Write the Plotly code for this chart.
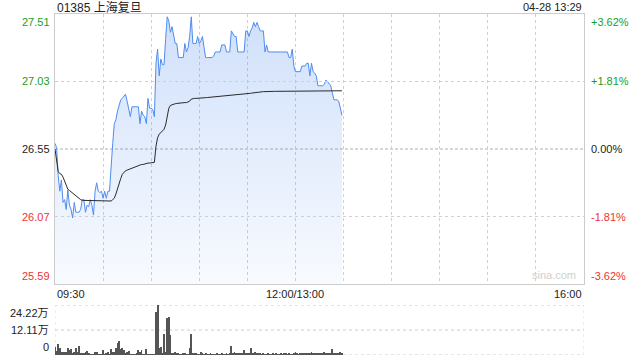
import plotly.graph_objects as go

title_left = "01385 上海复旦"
title_right = "04-28 13:29"
prev_close = 26.55
price_ticks = [27.51, 27.03, 26.55, 26.07, 25.59]
pct_labels = ["+3.62%", "+1.81%", "0.00%", "-1.81%", "-3.62%"]
time_labels = ["09:30", "12:00/13:00", "16:00"]
time_label_pos = [0, 150, 330]
grid_minutes = [30, 60, 90, 120, 150, 180, 210, 240, 270, 300]
vol_ticks = [24.22, 12.11, 0]
vol_labels = ["24.22万", "12.11万", "0"]

price = [
    26.59, 26.56, 26.36, 26.25, 26.33, 26.17, 26.19, 26.12, 26.26, 26.15,
    26.12, 26.06, 26.17, 26.10, 26.10, 26.10, 26.12, 26.19, 26.19, 26.10,
    26.15, 26.14, 26.19, 26.15, 26.08, 26.25, 26.31, 26.25, 26.24, 26.25,
    26.20, 26.25, 26.20, 26.25, 26.25, 26.45, 26.59, 26.73, 26.76, 26.82,
    26.87, 26.90, 26.91, 26.93, 26.94, 26.89, 26.84, 26.78, 26.85, 26.85,
    26.85, 26.85, 26.85, 26.73, 26.82, 26.79, 26.78, 26.73, 26.91, 26.84,
    26.84, 26.83, 26.78, 27.16, 27.26, 27.07, 27.19, 27.15, 27.15, 27.33,
    27.49, 27.46, 27.38, 27.42, 27.35, 27.30, 27.30, 27.20, 27.20, 27.20,
    27.20, 27.30, 27.24, 27.27, 27.35, 27.49, 27.30, 27.30, 27.30, 27.35,
    27.30, 27.32, 27.35, 27.27, 27.20, 27.20, 27.20, 27.20, 27.20, 27.21,
    27.24, 27.24, 27.24, 27.24, 27.29, 27.29, 27.29, 27.24, 27.24, 27.24,
    27.39, 27.37, 27.35, 27.35, 27.24, 27.24, 27.24, 27.24, 27.24, 27.39,
    27.39, 27.35, 27.39, 27.41, 27.45, 27.42, 27.45, 27.42, 27.39, 27.39,
    27.39, 27.24, 27.29, 27.24, 27.24, 27.24, 27.24, 27.24, 27.24, 27.24,
    27.24, 27.24, 27.24, 27.24, 27.24, 27.24, 27.20, 27.20, 27.26, 27.14,
    27.10, 27.10, 27.10, 27.10, 27.14, 27.14, 27.14, 27.16, 27.16, 27.07,
    27.16, 27.10, 27.09, 27.07, 27.00, 27.00, 27.00, 27.00, 27.01, 27.04,
    27.03, 27.01, 27.00, 26.95, 26.90, 26.90, 26.90, 26.89, 26.84, 26.79,
]

avg_price = [
    26.55, 26.46, 26.39, 26.375, 26.37, 26.35, 26.32, 26.29, 26.265, 26.255,
    26.245, 26.235, 26.23, 26.215, 26.205, 26.195, 26.19, 26.185, 26.185, 26.185,
    26.185, 26.185, 26.185, 26.18, 26.18, 26.18, 26.18, 26.18, 26.18, 26.18,
    26.18, 26.18, 26.18, 26.18, 26.18, 26.18, 26.19, 26.20, 26.23, 26.27,
    26.31, 26.34, 26.37, 26.385, 26.395, 26.40, 26.405, 26.41, 26.415, 26.42,
    26.425, 26.43, 26.43, 26.435, 26.44, 26.44, 26.445, 26.445, 26.45, 26.45,
    26.45, 26.45, 26.455, 26.57, 26.63, 26.655, 26.665, 26.675, 26.69, 26.72,
    26.79, 26.84, 26.86, 26.865, 26.87, 26.872, 26.874, 26.876, 26.877, 26.878,
    26.879, 26.88, 26.88, 26.885, 26.89, 26.905, 26.91, 26.91, 26.91, 26.91,
    26.91, 26.912, 26.913, 26.914, 26.915, 26.916, 26.917, 26.918, 26.919, 26.92,
    26.92, 26.92, 26.921, 26.922, 26.924, 26.926, 26.928, 26.93, 26.93, 26.93,
    26.932, 26.934, 26.935, 26.936, 26.937, 26.938, 26.939, 26.94, 26.94, 26.94,
    26.942, 26.944, 26.946, 26.948, 26.95, 26.952, 26.954, 26.955, 26.956, 26.957,
    26.958, 26.958, 26.959, 26.959, 26.96, 26.96, 26.96, 26.96, 26.96, 26.96,
    26.961, 26.961, 26.961, 26.961, 26.962, 26.962, 26.962, 26.962, 26.962, 26.963,
    26.963, 26.963, 26.963, 26.963, 26.963, 26.963, 26.963, 26.963, 26.963, 26.963,
    26.964, 26.964, 26.964, 26.964, 26.964, 26.964, 26.964, 26.964, 26.964, 26.964,
    26.965, 26.965, 26.965, 26.965, 26.965, 26.965, 26.965, 26.965, 26.965, 26.964,
]

volume_wan = [
    4.0, 2.0, 5.2, 3.6, 1.6, 1.6, 1.6, 1.6, 3.6, 2.4,
    2.9, 0.5, 1.3, 3.6, 1.6, 4.4, 1.0, 1.0, 0.6, 1.3,
    2.1, 0.6, 0.3, 0.3, 0.3, 1.6, 1.3, 0.3, 0.1, 0.3,
    2.4, 0.3, 0.8, 1.3, 0.3, 2.9, 1.3, 1.6, 3.2, 5.7,
    6.9, 2.9, 3.2, 2.4, 0.8, 1.6, 1.9, 0.3, 0.3, 0.3,
    0.3, 0.8, 2.4, 1.3, 2.4, 0.3, 0.3, 2.9, 0.3, 0.3,
    0.3, 0.3, 0.3, 21.0, 24.22, 3.6, 4.0, 1.0, 10.0, 1.6,
    18.1, 18.6, 9.7, 1.1, 0.8, 1.6, 0.6, 1.1, 0.3, 0.3,
    0.8, 0.8, 0.3, 0.3, 3.2, 10.0, 0.8, 0.6, 0.6, 0.3,
    0.3, 1.3, 0.5, 0.4, 0.6, 0.3, 0.4, 0.5, 0.3, 0.4,
    0.3, 0.5, 0.4, 0.3, 0.6, 0.4, 0.3, 0.5, 0.4, 0.6,
    4.2, 1.1, 1.6, 0.8, 0.6, 1.1, 0.8, 1.1, 2.5, 0.5,
    1.0, 0.8, 3.6, 1.0, 0.6, 1.6, 0.8, 1.1, 0.5, 0.4,
    0.6, 0.4, 0.3, 0.5, 0.4, 0.3, 0.6, 0.4, 0.5, 0.3,
    0.4, 0.6, 0.3, 0.5, 0.8, 0.4, 0.5, 0.3, 0.4, 0.6,
    1.3, 0.5, 0.4, 0.6, 0.8, 0.5, 0.6, 1.0, 0.5, 0.8,
    1.6, 0.6, 0.8, 1.1, 0.6, 0.5, 1.0, 0.6, 1.3, 0.8,
    0.6, 0.8, 1.0, 2.7, 0.6, 0.5, 0.8, 0.6, 1.6, 0.5,
]

minutes = list(range(len(price)))

W, H = 640, 360
PL, PR = 55, 584          # plot left/right pixels
MT, MB = 14, 284          # main plot top/bottom pixels
VT, VB = 305, 355         # volume plot top/bottom pixels

def px_x(p):
    return p / W

def px_y(p):
    return 1 - p / H

GREEN = "#1a9e1a"
RED = "#ee3333"
TXT = "#222222"
FONT = "Liberation Sans, Arial, Noto Sans CJK SC, sans-serif"
label_colors = [GREEN, GREEN, TXT, RED, RED]

fig = go.Figure()

fig.add_trace(go.Scatter(
    x=minutes, y=price, mode="lines",
    line=dict(color="rgb(80,140,240)", width=1),
    fill="tozeroy",
    fillgradient=dict(type="vertical",
                      colorscale=[[0, "rgba(80,140,240,0.04)"], [1, "rgba(80,140,240,0.27)"]],
                      start=price_ticks[-1], stop=price_ticks[0]),
    xaxis="x", yaxis="y", hoverinfo="skip", showlegend=False,
))
fig.add_trace(go.Scatter(
    x=minutes, y=avg_price, mode="lines",
    line=dict(color="#2a2a2a", width=1),
    xaxis="x", yaxis="y", hoverinfo="skip", showlegend=False,
))
fig.add_trace(go.Bar(
    x=minutes, y=volume_wan,
    marker=dict(color="#555555", line=dict(width=0)),
    width=0.55,
    xaxis="x2", yaxis="y2", hoverinfo="skip", showlegend=False,
))

xdom = [px_x(PL), px_x(PR)]
fig.update_layout(
    width=W, height=H,
    margin=dict(l=0, r=0, t=0, b=0),
    paper_bgcolor="white", plot_bgcolor="white",
    font=dict(family=FONT, size=11, color=TXT),
    bargap=0,
    xaxis=dict(domain=xdom, range=[0, 330], tickvals=grid_minutes, showticklabels=False,
               showgrid=True, gridcolor="#d0d0d0", griddash="dot", gridwidth=1,
               zeroline=False, showline=True, linecolor="#cccccc", mirror=True, ticks=""),
    yaxis=dict(domain=[px_y(MB), px_y(MT)], range=[price_ticks[-1], price_ticks[0]],
               showticklabels=False, showgrid=False, zeroline=False,
               showline=True, linecolor="#cccccc", mirror=True, ticks=""),
    xaxis2=dict(domain=xdom, range=[0, 330], showticklabels=False, showgrid=False,
                zeroline=False, showline=False, anchor="y2", ticks=""),
    yaxis2=dict(domain=[px_y(VB), px_y(VT)], range=[0, vol_ticks[0]], anchor="x2",
                showticklabels=False, showgrid=False, zeroline=False, showline=False, ticks=""),
)

shapes = []
# horizontal grid in main chart
for v in (price_ticks[1], price_ticks[3]):
    shapes.append(dict(type="line", xref="x", yref="y", x0=0, x1=330, y0=v, y1=v,
                       line=dict(color="#d0d0d0", width=1, dash="dot"), layer="above"))
shapes.append(dict(type="line", xref="x", yref="y", x0=0, x1=330, y0=prev_close, y1=prev_close,
                   line=dict(color="#b0b0b0", width=1, dash="3px,2px"), layer="below"))
# volume panel dotted frame and grid
for v in vol_ticks:
    shapes.append(dict(type="line", xref="x2", yref="y2", x0=0, x1=330, y0=v, y1=v,
                       line=dict(color="#cccccc", width=1, dash="dot"), layer="below"))
for xv in (0, 330):
    shapes.append(dict(type="line", xref="x2", yref="y2", x0=xv, x1=xv, y0=0, y1=vol_ticks[0],
                       line=dict(color="#dddddd", width=1, dash="dot"), layer="below"))
fig.update_layout(shapes=shapes)

ann = []
ann.append(dict(text=title_left, xref="paper", yref="paper", x=px_x(PL), y=px_y(7),
                xanchor="left", yanchor="middle", showarrow=False,
                font=dict(size=12, color=TXT)))
ann.append(dict(text=title_right, xref="paper", yref="paper", x=px_x(PR), y=px_y(7),
                xanchor="right", yanchor="middle", showarrow=False,
                font=dict(size=11, color=TXT)))
anchors = ["top", "middle", "middle", "middle", "bottom"]
for v, pl, c, a in zip(price_ticks, pct_labels, label_colors, anchors):
    ann.append(dict(text=f"{v:.2f}", xref="paper", yref="y", x=px_x(52), y=v,
                    xanchor="right", yanchor=a, showarrow=False, font=dict(size=11, color=c)))
    ann.append(dict(text=pl, xref="paper", yref="y", x=px_x(589), y=v,
                    xanchor="left", yanchor=a, showarrow=False, font=dict(size=11, color=c)))
for t, p, xa in zip(time_labels, time_label_pos, ["left", "center", "right"]):
    ann.append(dict(text=t, xref="x", yref="paper", x=p, y=px_y(286),
                    xanchor=xa, yanchor="top", showarrow=False, font=dict(size=11, color=TXT)))
for v, lab, a in zip(vol_ticks, vol_labels, ["top", "middle", "bottom"]):
    ann.append(dict(text=lab, xref="paper", yref="y2", x=px_x(51), y=v,
                    xanchor="right", yanchor=a, showarrow=False, font=dict(size=11, color=TXT)))
ann.append(dict(text="sina.com", xref="paper", yref="paper", x=px_x(PR - 6), y=px_y(283),
                xanchor="right", yanchor="bottom", showarrow=False,
                font=dict(size=11, color="#cfcfcf")))
fig.update_layout(annotations=ann)

fig.write_html("out.html")
